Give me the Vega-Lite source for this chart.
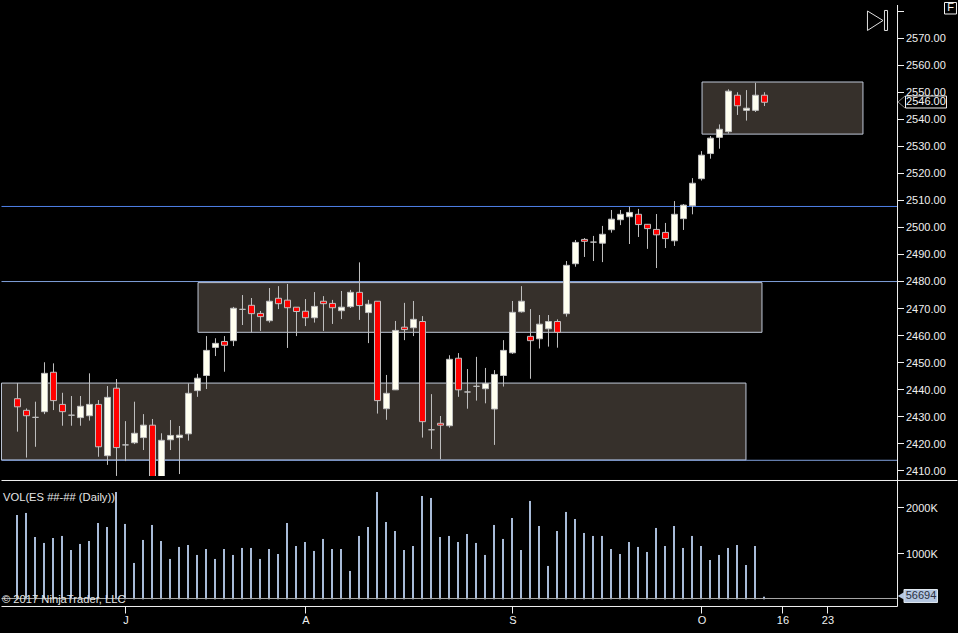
{
  "$schema": "https://vega.github.io/schema/vega-lite/v6.json",
  "background": "#000000",
  "padding": 0,
  "spacing": 0,
  "bounds": "flush",
  "config": {
    "view": {"stroke": null},
    "text": {"font": "Liberation Sans", "fontSize": 11},
    "axis": {"grid": false, "domain": false, "title": null, "labelFont": "Liberation Sans", "labelFontSize": 11, "labelColor": "#f0f0f0", "tickColor": "#f0f0f0", "labelOverlap": false}
  },
  "datasets": {
    "bars": [
      {"bar":0,"open":2436.4,"high":2442.2,"low":2424.2,"close":2433.4,"volume":1833000},
      {"bar":1,"open":2432.1,"high":2432.8,"low":2414.6,"close":2430.1,"volume":1877000},
      {"bar":2,"open":2429.5,"high":2435.3,"low":2418.6,"close":2429.5,"volume":1355000},
      {"bar":3,"open":2431.6,"high":2449.9,"low":2430.7,"close":2445.8,"volume":1225000},
      {"bar":4,"open":2446.2,"high":2449.5,"low":2432.2,"close":2435.7,"volume":1333000},
      {"bar":5,"open":2434.3,"high":2438.6,"low":2426.4,"close":2431.6,"volume":1377000},
      {"bar":6,"open":2430.3,"high":2437.4,"low":2426.4,"close":2430.3,"volume":1072000},
      {"bar":7,"open":2429.4,"high":2437.4,"low":2426.4,"close":2433.6,"volume":1203000},
      {"bar":8,"open":2430.1,"high":2445.8,"low":2428.3,"close":2434.3,"volume":1268000},
      {"bar":9,"open":2434.3,"high":2435.9,"low":2414.9,"close":2418.6,"volume":1659000},
      {"bar":10,"open":2415.3,"high":2441.1,"low":2411.9,"close":2436.9,"volume":1572000},
      {"bar":11,"open":2440.3,"high":2443.7,"low":2407.8,"close":2418.3,"volume":2333000},
      {"bar":12,"open":2419.3,"high":2428.1,"low":2413.3,"close":2419.3,"volume":1638000},
      {"bar":13,"open":2420.1,"high":2435.3,"low":2419.6,"close":2423.6,"volume":790000},
      {"bar":14,"open":2422,"high":2430.7,"low":2417.4,"close":2426.6,"volume":1290000},
      {"bar":15,"open":2426.6,"high":2428.9,"low":2400,"close":2404,"volume":1616000},
      {"bar":16,"open":2403,"high":2423.6,"low":2400,"close":2421,"volume":1268000},
      {"bar":17,"open":2421.2,"high":2428.5,"low":2417.4,"close":2422.8,"volume":877000},
      {"bar":18,"open":2422,"high":2426.3,"low":2408.5,"close":2422.9,"volume":1138000},
      {"bar":19,"open":2423.4,"high":2442.1,"low":2420.9,"close":2438.4,"volume":1181000},
      {"bar":20,"open":2439.4,"high":2445.6,"low":2437.1,"close":2444,"volume":964000},
      {"bar":21,"open":2445,"high":2459.6,"low":2440,"close":2454.3,"volume":1094000},
      {"bar":22,"open":2455.4,"high":2458.8,"low":2452.2,"close":2456.9,"volume":877000},
      {"bar":23,"open":2457.6,"high":2459.6,"low":2446.4,"close":2456.2,"volume":1094000},
      {"bar":24,"open":2457.9,"high":2470.4,"low":2455.9,"close":2469.9,"volume":964000},
      {"bar":25,"open":2469.5,"high":2474.8,"low":2463.7,"close":2469.5,"volume":1116000},
      {"bar":26,"open":2471,"high":2473.7,"low":2461,"close":2467.9,"volume":1116000},
      {"bar":27,"open":2468,"high":2468.9,"low":2461.5,"close":2466.8,"volume":877000},
      {"bar":28,"open":2465.3,"high":2477.4,"low":2464.6,"close":2472.5,"volume":1094000},
      {"bar":29,"open":2473.6,"high":2478.1,"low":2469.6,"close":2471.6,"volume":985000},
      {"bar":30,"open":2472.9,"high":2478.9,"low":2455.2,"close":2470.1,"volume":1659000},
      {"bar":31,"open":2470.3,"high":2470.3,"low":2459.6,"close":2468.7,"volume":1159000},
      {"bar":32,"open":2468.8,"high":2473.3,"low":2463.3,"close":2466.4,"volume":1246000},
      {"bar":33,"open":2466.4,"high":2475.9,"low":2464.6,"close":2470.6,"volume":1051000},
      {"bar":34,"open":2472.5,"high":2474.4,"low":2461.5,"close":2471.6,"volume":1312000},
      {"bar":35,"open":2471.7,"high":2473,"low":2464.1,"close":2470.1,"volume":1094000},
      {"bar":36,"open":2469,"high":2476.3,"low":2465.9,"close":2470.3,"volume":1094000},
      {"bar":37,"open":2470.5,"high":2476.7,"low":2470,"close":2475.8,"volume":616000},
      {"bar":38,"open":2475.8,"high":2486.9,"low":2465.6,"close":2470.9,"volume":1377000},
      {"bar":39,"open":2468.3,"high":2473,"low":2457,"close":2471.4,"volume":1572000},
      {"bar":40,"open":2472.5,"high":2472.5,"low":2430.9,"close":2435.7,"volume":2333000},
      {"bar":41,"open":2432.7,"high":2445.2,"low":2428.6,"close":2438.4,"volume":1681000},
      {"bar":42,"open":2439.7,"high":2465.2,"low":2439.7,"close":2461.7,"volume":1485000},
      {"bar":43,"open":2462.9,"high":2471.9,"low":2458.1,"close":2462,"volume":1072000},
      {"bar":44,"open":2462.7,"high":2472.6,"low":2459.6,"close":2465.8,"volume":1159000},
      {"bar":45,"open":2465,"high":2467,"low":2422,"close":2427.9,"volume":2246000},
      {"bar":46,"open":2424.9,"high":2438.1,"low":2417.8,"close":2424.9,"volume":2203000},
      {"bar":47,"open":2427.3,"high":2430,"low":2414,"close":2426.6,"volume":1355000},
      {"bar":48,"open":2426.4,"high":2452.5,"low":2425.7,"close":2451,"volume":1377000},
      {"bar":49,"open":2451.4,"high":2453.3,"low":2437.1,"close":2439.7,"volume":1246000},
      {"bar":50,"open":2438.9,"high":2447.4,"low":2432.7,"close":2438.9,"volume":1420000},
      {"bar":51,"open":2441,"high":2451.9,"low":2435.7,"close":2441,"volume":1225000},
      {"bar":52,"open":2440.1,"high":2447.8,"low":2434.7,"close":2442,"volume":964000},
      {"bar":53,"open":2432.6,"high":2447,"low":2419.3,"close":2445.4,"volume":1616000},
      {"bar":54,"open":2445,"high":2458.1,"low":2440.9,"close":2454.3,"volume":1312000},
      {"bar":55,"open":2453.4,"high":2472.6,"low":2453,"close":2468.4,"volume":1768000},
      {"bar":56,"open":2468.6,"high":2478.1,"low":2468.3,"close":2472.5,"volume":1072000},
      {"bar":57,"open":2459.5,"high":2469.6,"low":2443.8,"close":2457.9,"volume":2138000},
      {"bar":58,"open":2458.6,"high":2467.4,"low":2455,"close":2464,"volume":1594000},
      {"bar":59,"open":2462.3,"high":2467.4,"low":2455.7,"close":2465,"volume":725000},
      {"bar":60,"open":2465,"high":2465.8,"low":2455.3,"close":2461,"volume":1485000},
      {"bar":61,"open":2467.9,"high":2487.4,"low":2466.8,"close":2485.8,"volume":1899000},
      {"bar":62,"open":2486.4,"high":2495.2,"low":2485.3,"close":2494.3,"volume":1746000},
      {"bar":63,"open":2495.4,"high":2495.9,"low":2488.9,"close":2494.7,"volume":1442000},
      {"bar":64,"open":2494.4,"high":2496.7,"low":2487.4,"close":2494.4,"volume":1377000},
      {"bar":65,"open":2494,"high":2500.4,"low":2487,"close":2497.3,"volume":1377000},
      {"bar":66,"open":2499,"high":2506.3,"low":2497.9,"close":2502.9,"volume":1094000},
      {"bar":67,"open":2502.7,"high":2506.3,"low":2500.7,"close":2504.7,"volume":985000},
      {"bar":68,"open":2503.8,"high":2507.5,"low":2493.7,"close":2505.4,"volume":1246000},
      {"bar":69,"open":2504.7,"high":2506.7,"low":2496.3,"close":2500.9,"volume":1138000},
      {"bar":70,"open":2501,"high":2501,"low":2491.9,"close":2499.4,"volume":1029000},
      {"bar":71,"open":2499.1,"high":2504.8,"low":2484.8,"close":2497.1,"volume":1551000},
      {"bar":72,"open":2498,"high":2501.5,"low":2492.2,"close":2495.7,"volume":1159000},
      {"bar":73,"open":2494.9,"high":2509.6,"low":2493,"close":2504.7,"volume":1594000},
      {"bar":74,"open":2503.1,"high":2508.5,"low":2498.9,"close":2508.1,"volume":1116000},
      {"bar":75,"open":2507.9,"high":2518.1,"low":2504.7,"close":2516.2,"volume":1377000},
      {"bar":76,"open":2517.9,"high":2528.1,"low":2517.2,"close":2526.6,"volume":1159000},
      {"bar":77,"open":2527.2,"high":2533.7,"low":2525.3,"close":2532.9,"volume":855000},
      {"bar":78,"open":2533.2,"high":2538,"low":2529,"close":2536.2,"volume":964000},
      {"bar":79,"open":2535.3,"high":2551,"low":2534.6,"close":2550.3,"volume":1116000},
      {"bar":80,"open":2548.8,"high":2549.9,"low":2541.5,"close":2544.9,"volume":1181000},
      {"bar":81,"open":2543.2,"high":2550.7,"low":2539.4,"close":2544,"volume":746000},
      {"bar":82,"open":2543.2,"high":2553.4,"low":2542.6,"close":2548.8,"volume":1159000},
      {"bar":83,"open":2548.8,"high":2549.9,"low":2544.8,"close":2546.2,"volume":56694}
    ]
  },
  "vconcat": [
    {
      "width": 958,
      "height": 476,
      "encoding": {
        "x": {"field": "bar", "type": "quantitative", "axis": null, "scale": {"domain": [-1.9444, 104.5], "nice": false, "zero": false, "padding": 0}},
        "y": {
          "field": "price",
          "type": "quantitative",
          "scale": {"domain": [2407.78, 2584.07], "nice": false, "zero": false},
          "axis": {
            "orient": "right",
            "offset": -60.5,
            "values": [2410, 2420, 2430, 2440, 2450, 2460, 2470, 2480, 2490, 2500, 2510, 2520, 2530, 2540, 2550, 2560, 2570, 2580],
            "labelExpr": "datum.value == 2580 ? '' : format(datum.value, '.2f')",
            "tickSize": 6,
            "labelPadding": 2,
            "labelOffset": 1
          }
        }
      },
      "layer": [
        {
          "data": {"values": [
            {"bar": -1.78, "bar2": 80.94, "price": 2442.2, "price2": 2413.7},
            {"bar": 20.06, "bar2": 82.72, "price": 2479.4, "price2": 2461},
            {"bar": 76.06, "bar2": 93.94, "price": 2553.7, "price2": 2534.4}
          ]},
          "mark": {"type": "rect", "fill": "#36302b", "stroke": "#c0c8d8", "strokeWidth": 1},
          "encoding": {"x2": {"field": "bar2"}, "y2": {"field": "price2"}}
        },
        {
          "data": {"values": [
            {"bar": -1.778, "bar2": 97.72, "price": 2507.6, "line": "a"},
            {"bar": -1.778, "bar2": 97.72, "price": 2479.8, "line": "b"},
            {"bar": -1.778, "bar2": 97.72, "price": 2413.6, "line": "c"}
          ]},
          "mark": {"type": "rule", "strokeWidth": 1},
          "encoding": {
            "x2": {"field": "bar2"},
            "color": {"field": "line", "type": "nominal", "legend": null, "scale": {"domain": ["a", "b", "c"], "range": ["#4f80e8", "#7f9fda", "#7f9fda"]}}
          }
        },
        {
          "data": {"name": "bars"},
          "mark": {"type": "rule", "stroke": "#c0c0c0", "strokeWidth": 1, "clip": true},
          "encoding": {
            "y": {"field": "low", "type": "quantitative", "scale": {"domain": [2407.78, 2584.07], "nice": false, "zero": false}},
            "y2": {"field": "high"}
          }
        },
        {
          "data": {"name": "bars"},
          "mark": {"type": "bar", "size": 6, "stroke": "#c0c0c0", "strokeWidth": 1, "clip": true},
          "encoding": {
            "y": {"field": "open", "type": "quantitative", "scale": {"domain": [2407.78, 2584.07], "nice": false, "zero": false}},
            "y2": {"field": "close"},
            "fill": {"condition": {"test": "datum.close < datum.open", "value": "#ff0000"}, "value": "#fffff0"}
          }
        },
        {
          "data": {"values": [
            {"bar": 97.78, "price": 2582.22, "price2": 2407.78}
          ]},
          "mark": {"type": "rule", "stroke": "#f0f0f0", "strokeWidth": 1},
          "encoding": {"y2": {"field": "price2"}}
        },
        {
          "data": {"values": [
            {"bar": 98.67, "bar2": 103.22, "price": 2548.52, "price2": 2544.07},
            {"bar": 103, "bar2": 104.33, "price": 2583.15, "price2": 2578.89}
          ]},
          "mark": {"type": "rect", "fill": "#000000", "stroke": "#f4f4f4", "strokeWidth": 1},
          "encoding": {"x2": {"field": "bar2"}, "y2": {"field": "price2"}}
        },
        {
          "data": {"values": [
            {"shape": "arrow", "step": 0, "bar": 98.61, "price": 2548.52},
            {"shape": "arrow", "step": 1, "bar": 97.83, "price": 2546.3},
            {"shape": "arrow", "step": 2, "bar": 98.61, "price": 2544.07}
          ]},
          "mark": {"type": "line", "stroke": "#808080", "strokeWidth": 1},
          "encoding": {"detail": {"field": "shape"}, "order": {"field": "step", "type": "ordinal"}}
        },
        {
          "data": {"values": [
            {"shape": "play", "step": 0, "bar": 94.44, "price": 2580},
            {"shape": "play", "step": 1, "bar": 94.44, "price": 2572.78},
            {"shape": "play", "step": 2, "bar": 96.17, "price": 2576.48},
            {"shape": "play", "step": 3, "bar": 94.44, "price": 2580},
            {"shape": "end", "step": 0, "bar": 96.33, "price": 2580.19},
            {"shape": "end", "step": 1, "bar": 96.67, "price": 2580.19},
            {"shape": "end", "step": 2, "bar": 96.67, "price": 2572.78},
            {"shape": "end", "step": 3, "bar": 96.33, "price": 2572.78},
            {"shape": "end", "step": 4, "bar": 96.33, "price": 2580.19}
          ]},
          "mark": {"type": "line", "stroke": "#e0e0e0", "strokeWidth": 1},
          "encoding": {"detail": {"field": "shape"}, "order": {"field": "step", "type": "ordinal"}}
        },
        {
          "data": {"values": [
            {"bar": 100.94, "price": 2546.3, "label": "2546.00"},
            {"bar": 103.67, "price": 2580.93, "label": "F"}
          ]},
          "mark": {"type": "text", "align": "center", "baseline": "middle", "color": "#f4f4f4"},
          "encoding": {"text": {"field": "label"}}
        }
      ]
    },
    {
      "width": 958,
      "height": 157,
      "encoding": {
        "x": {
          "field": "bar",
          "type": "quantitative",
          "scale": {"domain": [-1.9444, 104.5], "nice": false, "zero": false, "padding": 0},
          "axis": {
            "orient": "bottom",
            "offset": -27,
            "values": [12, 32, 55, 76, 85, 90],
            "labelExpr": "{12: 'J', 32: 'A', 55: 'S', 76: 'O', 85: '16', 90: '23'}[datum.value]",
            "tickSize": 7,
            "labelPadding": 1
          }
        },
        "y": {
          "field": "volume",
          "type": "quantitative",
          "scale": {"domain": [-732600, 2680400], "nice": false, "zero": false},
          "axis": {
            "orient": "right",
            "offset": -60.5,
            "values": [1000000, 2000000],
            "labelExpr": "(datum.value / 1000) + 'K'",
            "tickSize": 6,
            "labelPadding": 2,
            "labelOffset": 1
          }
        }
      },
      "layer": [
        {
          "data": {"name": "bars"},
          "mark": {"type": "bar", "size": 2, "color": "#a8bbd8", "xOffset": -0.5}
        },
        {
          "data": {"values": [
            {"bar": -1.778, "bar2": 97.72, "volume": 17400}
          ]},
          "mark": {"type": "rule", "stroke": "#a8a8a8", "strokeWidth": 1},
          "encoding": {"x2": {"field": "bar2"}}
        },
        {
          "data": {"values": [
            {"bar": -1.778, "bar2": 104.44, "volume": 2582600},
            {"bar": -1.778, "bar2": 97.78, "volume": -156500}
          ]},
          "mark": {"type": "rule", "stroke": "#f0f0f0", "strokeWidth": 1},
          "encoding": {"x2": {"field": "bar2"}}
        },
        {
          "data": {"values": [
            {"bar": 97.78, "volume": 2680400, "volume2": -156500}
          ]},
          "mark": {"type": "rule", "stroke": "#f0f0f0", "strokeWidth": 1},
          "encoding": {"y2": {"field": "volume2"}}
        },
        {
          "data": {"values": [
            {"bar": 98.5, "bar2": 102.22, "volume": 213000, "volume2": -70000}
          ]},
          "mark": {"type": "rect", "fill": "#b4c6e0", "stroke": "#e0e8f0", "strokeWidth": 1},
          "encoding": {"x2": {"field": "bar2"}, "y2": {"field": "volume2"}}
        },
        {
          "data": {"values": [
            {"bar": 98.17, "volume": 72000}
          ]},
          "mark": {"type": "point", "shape": "triangle-left", "filled": true, "size": 60, "color": "#b4c6e0", "opacity": 1}
        },
        {
          "data": {"values": [
            {"bar": 100.39, "volume": 72000, "label": "56694"}
          ]},
          "mark": {"type": "text", "align": "center", "baseline": "middle", "color": "#2a3040"},
          "encoding": {"text": {"field": "label"}}
        },
        {
          "data": {"values": [
            {"bar": -1.611, "volume": 2202000, "label": "VOL(ES ##-## (Daily))"},
            {"bar": -1.722, "volume": -15000, "label": "© 2017 NinjaTrader, LLC"}
          ]},
          "mark": {"type": "text", "align": "left", "baseline": "middle", "color": "#e6e6e6", "fontSize": 11.2},
          "encoding": {"text": {"field": "label"}}
        }
      ]
    }
  ]
}
